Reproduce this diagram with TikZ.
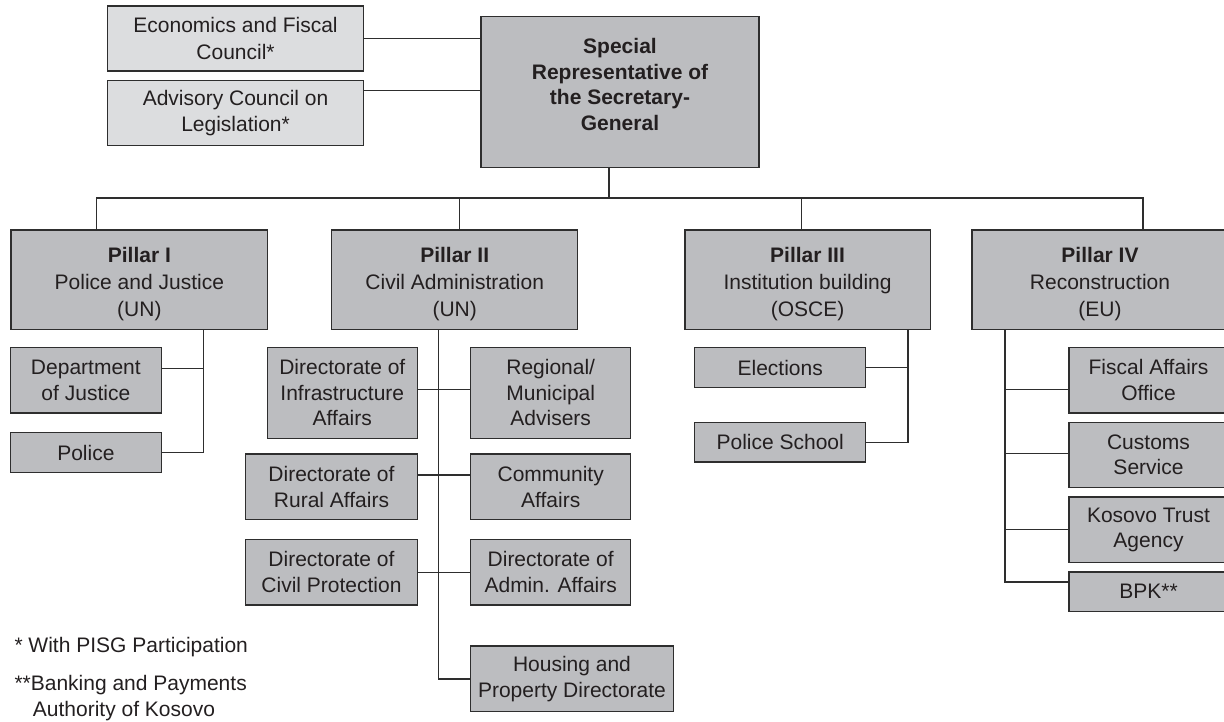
\documentclass[tikz,border=0pt]{standalone}
\usepackage{fontspec}
\setmainfont{Liberation Sans}
\definecolor{ink}{HTML}{231F20}
\definecolor{edge}{HTML}{2E2E2E}
\definecolor{darkfill}{HTML}{BCBDC0}
\definecolor{lightfill}{HTML}{DCDDDF}
\begin{document}
\begin{tikzpicture}[x=1pt,y=-1pt,
  every node/.style={text=ink, font=\fontsize{21}{25.5}\selectfont},
  orgbox/.style={draw=edge, line width=1.4pt, fill=darkfill, align=center,
    inner sep=0pt, minimum width=#1},
  orgbox/.default=150,
  councilbox/.style={orgbox=256, fill=lightfill, minimum height=65,
    font=\fontsize{21}{26.5}\selectfont},
  pillarbox/.style={orgbox=#1, minimum height=99.3,
    font=\fontsize{21}{27}\selectfont},
  note/.style={anchor=base west, inner sep=0pt},
  conn/.style={draw=edge, line width=1.3pt}]
\useasboundingbox (0,0) rectangle (1224,721);

% advisory councils and the SRSG
\node[councilbox] (econ) at (235.55,38.35) {Economics and Fiscal\\Council*};
\node[councilbox] (adv) at (235.55,113.2) {Advisory Council on\\Legislation*};
\node[orgbox=278, minimum height=151, font=\fontsize{21}{25.5}\selectfont\bfseries]
  (srsg) at (620,92.2)
  {Special\\Representative of\\the Secretary-\\General\rule[-16pt]{0pt}{16pt}};

% the four pillars
\node[pillarbox=256.7] (p1) at (139.35,279.65)
  {\rule{0pt}{25pt}\textbf{Pillar I}\\Police and Justice\\(UN)};
\node[pillarbox=246] (p2) at (454.7,279.65)
  {\rule{0pt}{25pt}\textbf{Pillar II}\\Civil Administration\\(UN)};
\node[pillarbox=245.5] (p3) at (807.55,279.65)
  {\rule{0pt}{25pt}\textbf{Pillar III}\\Institution building\\(OSCE)};
\node[pillarbox=256] (p4) at (1100,279.65)
  {\rule{0pt}{25pt}\textbf{Pillar IV}\\Reconstruction\\(EU)};

% Pillar I units
\node[orgbox=150.7, minimum height=65.7] (dept) at (85.85,380.15) {Department\\of Justice};
\node[orgbox=150.7, minimum height=40] (police) at (85.85,452.7) {Police};

% Pillar II units
\node[orgbox=150, minimum height=91] (infra) at (342.3,392.8) {Directorate of\\Infrastructure\\Affairs};
\node[orgbox=160, minimum height=91] (regional) at (550.7,392.8) {Regional/\\Municipal\\Advisers};
\node[orgbox=171.6, minimum height=65.7] (rural) at (331.5,486.85) {Directorate of\\Rural Affairs};
\node[orgbox=160, minimum height=65.7] (community) at (550.7,486.85) {Community\\Affairs};
\node[orgbox=171.6, minimum height=65.7] (civil) at (331.5,572.15) {Directorate of\\Civil Protection};
\node[orgbox=160, minimum height=65.7] (admin) at (550.7,572.15) {Directorate of\\Admin. Affairs};
\node[orgbox=202.6, minimum height=65.7] (housing) at (572,678.85) {Housing and\\Property Directorate};

% Pillar III units
\node[orgbox=171, minimum height=40.4] (elections) at (780.2,367.5) {Elections};
\node[orgbox=171, minimum height=39.7] (school) at (780.2,442.15) {Police School};

% Pillar IV units
\node[orgbox=159, minimum height=65.7] (fiscal) at (1148.5,380.15) {Fiscal Affairs\\Office};
\node[orgbox=159, minimum height=64.8] (customs) at (1148.5,454.9) {Customs\\Service};
\node[orgbox=159, minimum height=65.5] (kta) at (1148.5,529.75) {Kosovo Trust\\Agency};
\node[orgbox=159, minimum height=39.3] (bpk) at (1148.5,591.65) {BPK**};

% footnotes
\node[note] (fn1) at (14.3,652.5) {* With PISG Participation};
\node[note] (fn2) at (14.3,690.5) {**Banking and Payments};
\node[note] (fn3) at (32.7,716) {Authority of Kosovo};

% councils to SRSG
\draw[conn] (econ.east) -- (srsg.west |- econ.east);
\draw[conn] (adv.east |- 0,90.7) -- (srsg.west |- 0,90.7);

% SRSG down to the pillar bus
\coordinate (bus) at (609,198);
\coordinate (d1) at (96.8,198);
\coordinate (d2) at (459.5,198);
\coordinate (d3) at (801.7,198);
\coordinate (d4) at (1143,198);
\draw[conn] (srsg.south -| bus) -- (bus);
\draw[conn] (d1 |- p1.north) -- (d1) -- (d4) -- (d4 |- p4.north);
\draw[conn] (d2) -- (d2 |- p2.north);
\draw[conn] (d3) -- (d3 |- p3.north);

% Pillar I branch
\coordinate (v1) at (203.3,0);
\draw[conn] (p1.south -| v1) -- (v1 |- police.east) -- (police.east);
\draw[conn] (dept.east |- 0,368.7) -- (v1 |- 0,368.7);

% Pillar II branch
\coordinate (v2) at (438.5,0);
\draw[conn] (p2.south -| v2) -- (v2 |- housing.west) -- (housing.west);
\draw[conn] (infra.east |- 0,389.7) -- (regional.west |- 0,389.7);
\draw[conn] (rural.east |- 0,475) -- (community.west |- 0,475);
\draw[conn] (civil.east) -- (admin.west);

% Pillar III branch
\coordinate (v3) at (908,0);
\draw[conn] (p3.south -| v3) -- (v3 |- school.east) -- (school.east);
\draw[conn] (elections.east) -- (elections.east -| v3);

% Pillar IV branch
\coordinate (v4) at (1005,0);
\draw[conn] (p4.south -| v4) -- (v4 |- 0,582) -- (bpk.west |- 0,582);
\draw[conn] (fiscal.west |- 0,389.5) -- (v4 |- 0,389.5);
\draw[conn] (customs.west |- 0,453.7) -- (v4 |- 0,453.7);
\draw[conn] (kta.west) -- (kta.west -| v4);
\end{tikzpicture}
\end{document}
